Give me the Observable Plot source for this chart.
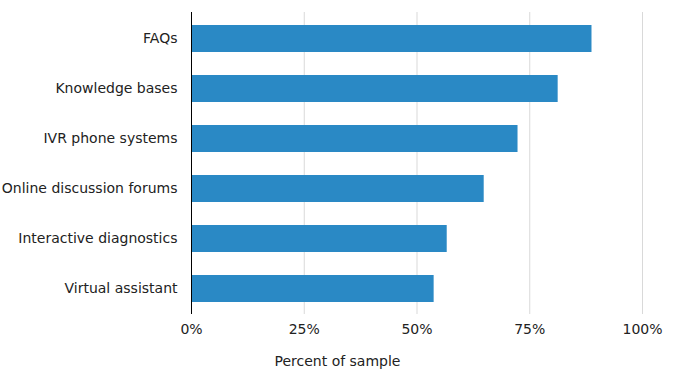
<!DOCTYPE html>
<html>
<head>
<meta charset="utf-8">
<script src="https://cdn.jsdelivr.net/npm/d3@7"></script>
<script src="https://cdn.jsdelivr.net/npm/@observablehq/plot@0.6"></script>
<style>
  html, body { margin: 0; padding: 0; background: #fff; }
  #chart { width: 675px; font-family: "DejaVu Sans", Verdana, sans-serif; color: #222; }
  #xlabel { width: 675px; text-align: center; font-size: 14px; line-height: 20px; margin-top: 6px; color: #222; }
</style>
</head>
<body>
<div id="chart"></div>
<script>
const categories = ["FAQs", "Knowledge bases", "IVR phone systems", "Online discussion forums", "Interactive diagnostics", "Virtual assistant"];
const values = [0.888, 0.813, 0.724, 0.649, 0.567, 0.538];
const xTicks = [0, 0.25, 0.5, 0.75, 1];
const xLabel = "Percent of sample";

const data = categories.map((c, i) => ({category: c, value: values[i]}));

const plot = Plot.plot({
  width: 675,
  height: 345,
  marginLeft: 191,
  marginRight: 33,
  marginTop: 12,
  marginBottom: 31,
  style: {fontFamily: "DejaVu Sans, Verdana, sans-serif", fontSize: "14px", color: "#222", background: "#fff"},
  x: {domain: [0, 1], ticks: xTicks, tickFormat: d => Math.round(d * 100) + "%", label: null},
  y: {domain: categories, paddingInner: 0.467, paddingOuter: 0.24, label: null},
  marks: [
    Plot.gridX(xTicks, {stroke: "#d9d9d9", strokeOpacity: 1}),
    Plot.barX(data, {x: "value", y: "category", fill: "#2a89c5"}),
    Plot.axisX({ticks: xTicks, tickSize: 0, tickPadding: 10, tickFormat: d => Math.round(d * 100) + "%", label: null, fontSize: 14}),
    Plot.axisY({tickSize: 0, tickPadding: 14, label: null, fontSize: 14}),
    Plot.ruleX([0], {stroke: "#000", strokeWidth: 1})
  ]
});
document.getElementById("chart").appendChild(plot);
const lab = document.createElement("div");
lab.id = "xlabel";
lab.textContent = xLabel;
document.getElementById("chart").appendChild(lab);
</script>
</body>
</html>
